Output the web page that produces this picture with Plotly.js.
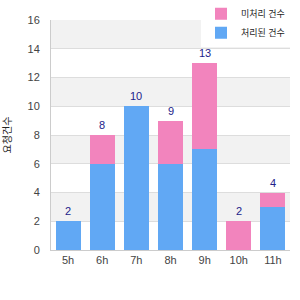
<!DOCTYPE html>
<html><head><meta charset="utf-8">
<script src="https://cdn.plot.ly/plotly-3.0.1.min.js"></script>
<style>html,body{margin:0;padding:0;background:#fff}#c{width:300px;height:300px}</style>
</head><body><div id="c"></div>
<script>
const hours = ['5h','6h','7h','8h','9h','10h','11h'];
const blueVals = [2, 6, 10, 6, 7, 0, 3];
const pinkVals = [0, 2, 0, 3, 6, 2, 1];
const blueName = '처리된 건수';
const pinkName = '미처리 건수';
const yTitle = '요청건수';
const yTicks = [0,2,4,6,8,10,12,14,16];

const totals = hours.map((h,i)=>blueVals[i]+pinkVals[i]);
const font = {family:'"Liberation Sans", Arial, "Noto Sans CJK KR", sans-serif', size:11, color:'#444'};

const traces = [
  {type:'bar', x:hours, y:blueVals, name:blueName, marker:{color:'#61a8f4'}, hoverinfo:'skip'},
  {type:'bar', x:hours, y:pinkVals, name:pinkName, marker:{color:'#f284bd'}, hoverinfo:'skip'}
];

const shapes = [];
for (let i=0;i<yTicks.length-1;i++){
  if (i%2===1) shapes.push({type:'rect', xref:'paper', yref:'y', x0:0, x1:1, y0:yTicks[i], y1:yTicks[i+1], fillcolor:'#f2f2f2', line:{width:0}, layer:'below'});
}

const annotations = hours.map((h,i)=>({x:h, y:totals[i], text:String(totals[i]), showarrow:false, yanchor:'bottom', yshift:2,
  font:{family:font.family, size:11, color:'#22228a'}}));

const layout = {
  width:300, height:300,
  margin:{l:51, r:10, t:20, b:50, autoexpand:false},
  barmode:'stack', bargap:0.27,
  paper_bgcolor:'#fff', plot_bgcolor:'rgba(0,0,0,0)',
  font:font,
  showlegend:true,
  legend:{x:1, xanchor:'right', y:1.09, yanchor:'top', bgcolor:'#fff', traceorder:'reversed',
    font:{family:font.family, size:9, color:'#222'}, tracegroupgap:0},
  xaxis:{type:'category', range:[-0.5,6.5], showgrid:false, showline:true, linecolor:'#cccccc', linewidth:1,
    ticks:'', tickfont:{size:11, color:'#444'}, fixedrange:true},
  yaxis:{range:[0,16], tickvals:yTicks, showgrid:true, gridcolor:'#dddddd', showline:true, linecolor:'#cccccc',
    zeroline:false, ticks:'', ticklabelstandoff:8, tickfont:{size:11, color:'#444'},
    title:{text:yTitle, font:{size:10, color:'#222'}, standoff:14}},
  shapes:shapes,
  annotations:annotations
};
Plotly.newPlot('c', traces, layout, {displayModeBar:false, staticPlot:true});
</script></body></html>
